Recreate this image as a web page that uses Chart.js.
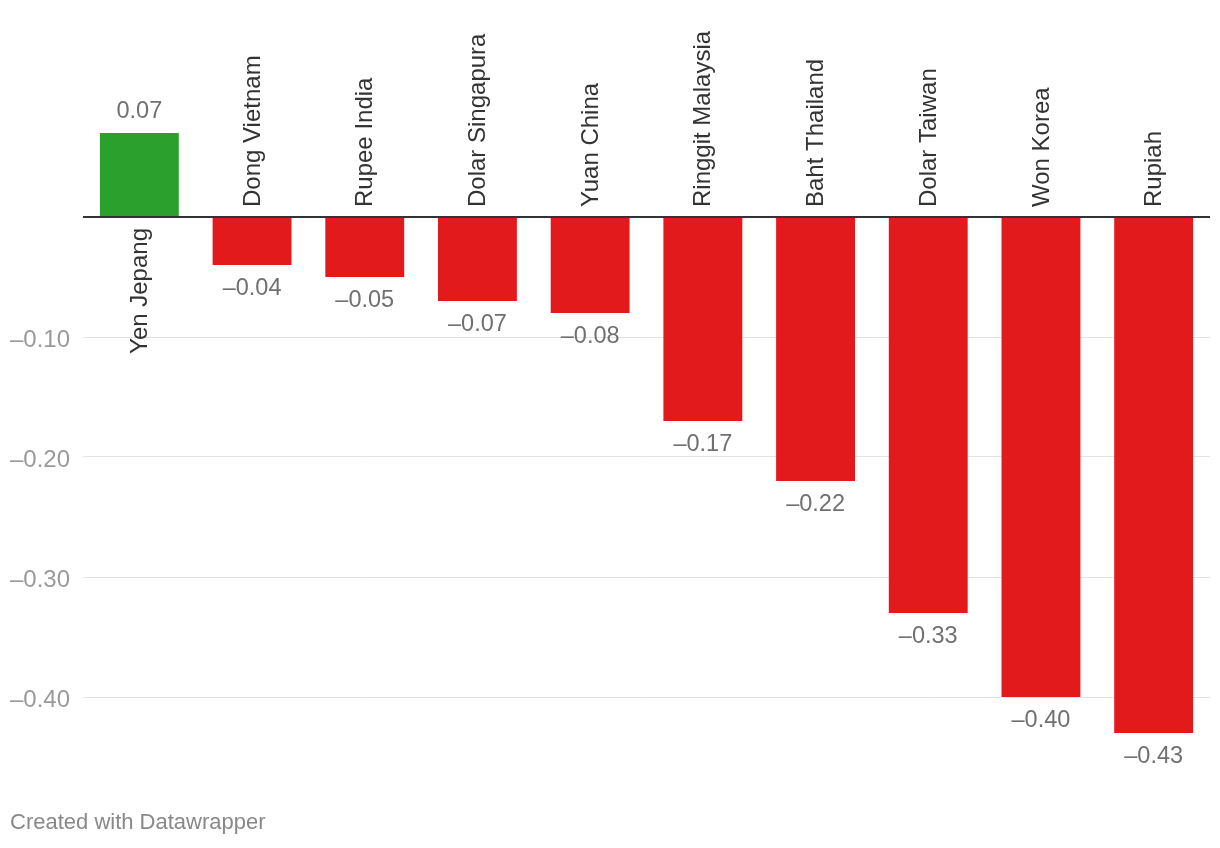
<!DOCTYPE html>
<html>
<head>
<meta charset="utf-8">
<script src="https://cdn.jsdelivr.net/npm/chart.js@4/dist/chart.umd.min.js"></script>
<style>
  html, body { margin: 0; padding: 0; background: #fff; }
  #wrap { position: relative; width: 1220px; height: 848px; }
  #footer {
    position: absolute; left: 10px; top: 809px;
    font: 22px "Liberation Sans", Arial, Helvetica, sans-serif; color: #888;
  }
</style>
</head>
<body>
<div id="wrap">
  <canvas id="fxChart" width="1220" height="848"></canvas>
  <div id="footer">Created with Datawrapper</div>
</div>
<script>
const categories = ['Yen Jepang', 'Dong Vietnam', 'Rupee India', 'Dolar Singapura', 'Yuan China',
    'Ringgit Malaysia', 'Baht Thailand', 'Dolar Taiwan', 'Won Korea', 'Rupiah'];
const changes = [0.07, -0.04, -0.05, -0.07, -0.08, -0.17, -0.22, -0.33, -0.40, -0.43];
const tickValues = [0, -0.1, -0.2, -0.3, -0.4];

const FONT = '"Liberation Sans", Arial, Helvetica, sans-serif';
const fmt = v => (v < 0 ? '\u2013' : '') + Math.abs(v).toFixed(2);

// value labels + rotated category labels
const labelPlugin = {
    id: 'barLabels',
    afterDatasetsDraw(chart) {
        const { ctx, scales: { y } } = chart;
        const zero = y.getPixelForValue(0);
        const bars = chart.getDatasetMeta(0).data;
        ctx.save();
        bars.forEach((bar, i) => {
            const v = changes[i];
            // value
            ctx.font = '23.5px ' + FONT;
            ctx.fillStyle = '#707070';
            ctx.textAlign = 'center';
            ctx.textBaseline = 'middle';
            ctx.fillText(fmt(v), bar.x, v >= 0 ? bar.y - 21 : bar.y + 24);
            // category
            ctx.save();
            ctx.font = '24px ' + FONT;
            ctx.fillStyle = '#333';
            if (v >= 0) {
                ctx.translate(bar.x, zero + 11);
                ctx.rotate(-Math.PI / 2);
                ctx.textAlign = 'right';
            } else {
                ctx.translate(bar.x, zero - 10);
                ctx.rotate(-Math.PI / 2);
                ctx.textAlign = 'left';
            }
            ctx.fillText(categories[i], 0, 1);
            ctx.restore();
        });
        ctx.restore();
    }
};

const ctx = document.getElementById('fxChart').getContext('2d');
new Chart(ctx, {
    type: 'bar',
    data: {
        labels: categories,
        datasets: [{
            data: changes,
            backgroundColor: changes.map(v => v >= 0 ? '#2ca02c' : '#e31a1c'),
            borderWidth: 0,
            categoryPercentage: 0.7,
            barPercentage: 1
        }]
    },
    options: {
        responsive: false,
        animation: false,
        layout: { padding: { left: 0, right: 10, top: 0, bottom: 91 } },
        plugins: { legend: { display: false }, tooltip: { enabled: false } },
        scales: {
            x: { display: false },
            y: {
                min: -0.45,
                max: 0.158,
                afterBuildTicks: scale => { scale.ticks = tickValues.map(v => ({ value: v })); },
                afterFit: scale => { scale.width = 83; },
                border: { display: false },
                grid: {
                    drawTicks: false,
                    color: c => c.tick && c.tick.value === 0 ? '#333' : '#e3e3e3',
                    lineWidth: c => c.tick && c.tick.value === 0 ? 2 : 1
                },
                ticks: {
                    padding: 13,
                    labelOffset: 3,
                    color: '#9a9a9a',
                    font: { family: FONT, size: 24 },
                    callback: v => v === 0 ? '' : fmt(v)
                }
            }
        }
    },
    plugins: [labelPlugin]
});
</script>
</body>
</html>
